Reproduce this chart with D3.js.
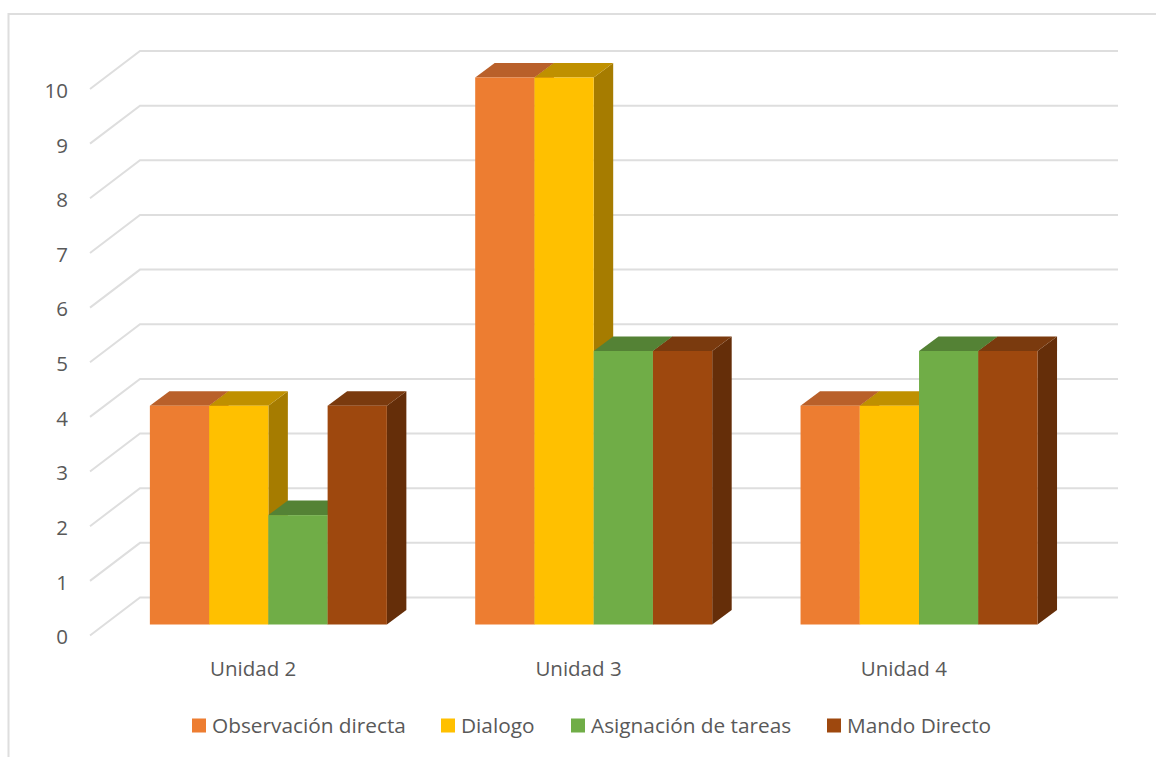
<!DOCTYPE html>
<html><head><meta charset="utf-8">
<style>html,body{margin:0;padding:0;background:#fff}svg{display:block}text{font-family:"Open Sans",sans-serif;fill:#595959}</style>
<script src="https://cdn.jsdelivr.net/npm/d3@7/dist/d3.min.js"></script>
</head><body><svg id="c" width="1156" height="757"></svg>
<script>
const categories=["Unidad 2","Unidad 3","Unidad 4"];
const seriesNames=["Observación directa","Dialogo","Asignación de tareas","Mando Directo"];
const observacion=[4,10,4];
const dialogo=[4,10,4];
const asignacion=[2,5,5];
const mando=[4,5,5];
const yTicks=[0,1,2,3,4,5,6,7,8,9,10];
const seriesValues=[observacion,dialogo,asignacion,mando];
const frontColors=["#ED7D31","#FFC000","#70AD47","#9E480E"];
const topColors=["#B9602A","#BF9000","#548235","#7A3A0E"];
const sideColors=["#AE5A21","#A67C00","#4F7A32","#652E09"];

const svg=d3.select("#c");
// chart border
svg.append("path").attr("d","M8.5,757V14H1156").attr("fill","none").attr("stroke","#DEDEDE").attr("stroke-width",2);

const W={x0:140,x1:1118};           // back wall
const wallY=d3.scaleLinear().domain([0,10]).range([597.5,51]);
const D={dx:50,dy:38};              // floor depth of the wall
const barFrontY=d3.scaleLinear().domain([0,10]).range([624.5,77.5]);
const barD={dx:19.5,dy:14.5};       // bar depth
const x=d3.scaleBand().domain(categories).range([90.5,1066.5]);
const barShift=15.2, barW=59.25;
const inner=d3.scaleBand().domain(seriesNames.map((d,i)=>i)).range([0,barW*4]);

// gridlines
svg.append("g").selectAll("path").data(yTicks).join("path")
  .attr("d",v=>`M${W.x0-D.dx},${wallY(v)+D.dy}L${W.x0},${wallY(v)}H${W.x1}`)
  .attr("fill","none").attr("stroke","#DEDEDE").attr("stroke-width",2);

// y labels
svg.append("g").selectAll("text").data(yTicks).join("text")
  .attr("x",68).attr("y",v=>wallY(v)+D.dy+1.5).attr("dy","0.36em")
  .attr("text-anchor","end").attr("font-size",20.5).text(d=>d);

// x labels
svg.append("g").selectAll("text").data(categories).join("text")
  .attr("x",d=>x(d)+x.bandwidth()/2).attr("y",669).attr("dy","0.36em")
  .attr("text-anchor","middle").attr("font-size",20.5).text(d=>d);

// bars
const bars=[];
categories.forEach((c,ci)=>{
  const gx=x(c)+x.bandwidth()/2+barShift-barW*2;
  seriesNames.forEach((s,si)=>bars.push({x:gx+inner(si),v:seriesValues[si][ci],si}));
});
const bg=svg.append("g").selectAll("g").data(bars).join("g");
const f=d=>barFrontY(d.v), b=barFrontY(0);
bg.append("path").attr("fill",d=>sideColors[d.si])
  .attr("d",d=>`M${d.x+barW},${f(d)}l${barD.dx},${-barD.dy}V${b-barD.dy}L${d.x+barW},${b}Z`);
bg.append("path").attr("fill",d=>topColors[d.si])
  .attr("d",d=>`M${d.x},${f(d)}l${barD.dx},${-barD.dy}h${barW}l${-barD.dx},${barD.dy}Z`);
bg.append("rect").attr("fill",d=>frontColors[d.si])
  .attr("x",d=>d.x).attr("y",f).attr("width",barW).attr("height",d=>b-f(d));

// legend
const legendX=[192,441,571,827];
const lg=svg.append("g").selectAll("g").data(seriesNames).join("g")
  .attr("transform",(d,i)=>`translate(${legendX[i]},718.5)`);
lg.append("rect").attr("width",14).attr("height",14).attr("fill",(d,i)=>frontColors[i]);
lg.append("text").attr("x",20).attr("y",6.5).attr("dy","0.36em").attr("font-size",20.8).text(d=>d);
</script></body></html>
